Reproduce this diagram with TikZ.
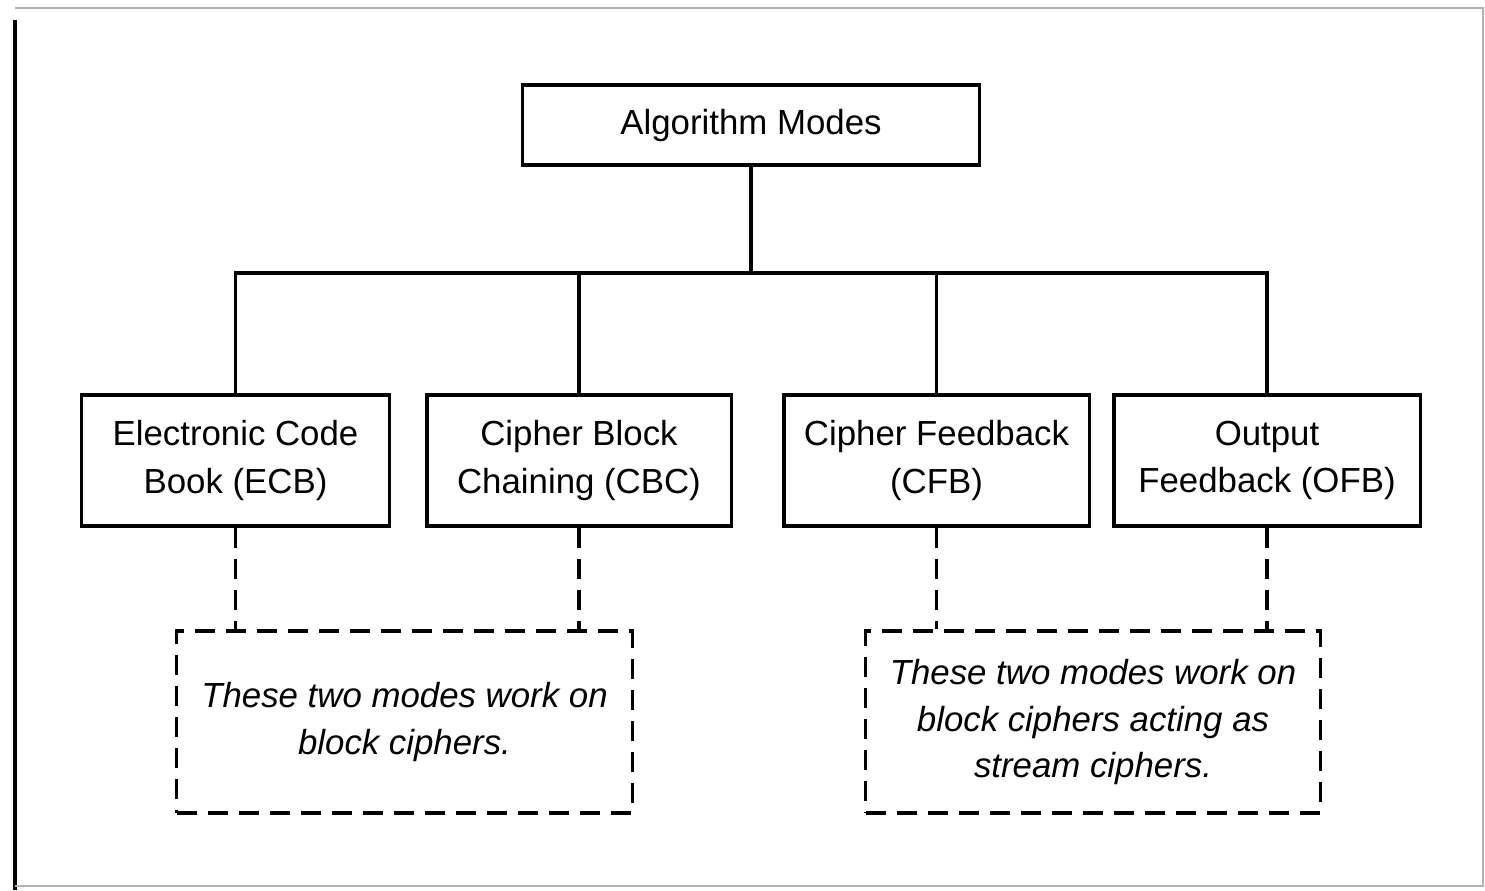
\documentclass[tikz,border=0pt]{standalone}
\usepackage{fontspec}
\setmainfont{Liberation Sans}
\begin{document}
\begin{tikzpicture}[x=0.01cm,y=-0.01cm,
  box/.style={draw,line width=0.9pt,align=center,inner sep=0pt,font=\fontsize{9.9}{13.4}\selectfont},
  note/.style={draw,line width=0.9pt,dash pattern=on 0.2cm off 0.11cm,align=center,inner sep=0pt,font=\fontsize{9.9}{13.3}\selectfont\itshape},
  link/.style={line width=0.9pt},
  dlink/.style={line width=0.9pt,dash pattern=on 0.2cm off 0.11cm}]
\useasboundingbox (0,0) rectangle (1485,890);
% frame
\draw[line width=1.2pt] (15,20) -- (15,890);
\draw[gray!60,line width=0.4pt] (15,8) -- (1483,8) -- (1483,886) -- (15,886);
% nodes
\node[box,minimum width=4.56cm,minimum height=0.8cm] (top) at (751,125) {Algorithm Modes};
\node[box,minimum width=3.07cm,minimum height=1.31cm] (ecb) at (235.5,460.5) {Electronic Code\\Book (ECB)};
\node[box,minimum width=3.04cm,minimum height=1.31cm] (cbc) at (579,460.5) {Cipher Block\\Chaining (CBC)};
\node[box,minimum width=3.05cm,minimum height=1.31cm] (cfb) at (936.5,460.5) {Cipher Feedback\\(CFB)};
\node[box,minimum width=3.06cm,minimum height=1.31cm] (ofb) at (1267,460.5) {Output\\Feedback (OFB)};
\node[note,minimum width=4.55cm,minimum height=1.82cm] (n1) at (404.5,722) {These two modes work on\\block ciphers.};
\node[note,minimum width=4.54cm,minimum height=1.82cm] (n2) at (1093,722) {These two modes work on\\block ciphers acting as\\stream ciphers.};
\coordinate (bus) at (751,273);
% connectors
\draw[link] (top.south) -- (bus);
\draw[link] (ecb.north) -- (ecb.north |- bus) -- (ofb.north |- bus) -- (ofb.north);
\draw[link] (cbc.north) -- (cbc.north |- bus);
\draw[link] (cfb.north) -- (cfb.north |- bus);
\draw[dlink] (ecb.south) -- (ecb.south |- n1.north);
\draw[dlink] (cbc.south) -- (cbc.south |- n1.north);
\draw[dlink] (cfb.south) -- (cfb.south |- n2.north);
\draw[dlink] (ofb.south) -- (ofb.south |- n2.north);
\end{tikzpicture}
\end{document}
